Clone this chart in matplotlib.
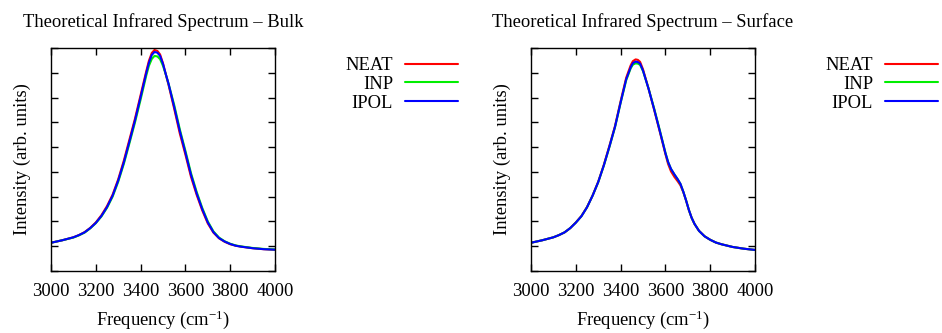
# -*- coding: utf-8 -*-

"""
Theoretical IR spectra (bulk / surface), gnuplot-like look.
"""

# %% Imports
import matplotlib
matplotlib.use("Agg")
import matplotlib.pyplot as plt

# %% Data (arb. units)
freq_bulk = [3000, 3050, 3100, 3125, 3150, 3175, 3200, 3225, 3250, 3275,
             3300, 3325, 3350, 3375, 3400, 3425, 3437, 3450, 3462, 3475,
             3487, 3500, 3512, 3525, 3550, 3575, 3600, 3625, 3650, 3675,
             3700, 3725, 3750, 3775, 3800, 3825, 3850, 3900, 3950, 4000]
neat_bulk = [1.14, 1.24, 1.36, 1.45, 1.57, 1.74, 1.96, 2.25, 2.62, 3.08,
             3.70, 4.45, 5.30, 6.15, 7.10, 8.05, 8.48, 8.80, 8.92, 8.88,
             8.74, 8.38, 7.95, 7.50, 6.55, 5.55, 4.70, 3.80, 3.08, 2.45,
             1.92, 1.55, 1.32, 1.18, 1.08, 1.02, 0.98, 0.92, 0.88, 0.86]
inp_bulk = [1.14, 1.24, 1.35, 1.44, 1.55, 1.72, 1.93, 2.20, 2.55, 3.00,
            3.60, 4.32, 5.15, 6.00, 6.92, 7.88, 8.28, 8.56, 8.68, 8.66,
            8.55, 8.28, 7.95, 7.55, 6.70, 5.72, 4.85, 3.95, 3.20, 2.55,
            2.00, 1.60, 1.35, 1.20, 1.10, 1.03, 0.99, 0.93, 0.89, 0.87]
ipol_bulk = [1.14, 1.24, 1.36, 1.45, 1.56, 1.73, 1.94, 2.22, 2.58, 3.04,
             3.65, 4.38, 5.22, 6.08, 7.02, 7.98, 8.40, 8.72, 8.84, 8.81,
             8.68, 8.36, 7.96, 7.55, 6.62, 5.65, 4.78, 3.88, 3.14, 2.50,
             1.96, 1.57, 1.33, 1.19, 1.09, 1.02, 0.98, 0.92, 0.88, 0.86]

freq_surf = [3000, 3050, 3100, 3125, 3150, 3175, 3200, 3225, 3250, 3275,
             3300, 3325, 3350, 3375, 3400, 3425, 3445, 3455, 3467, 3477,
             3487, 3500, 3525, 3550, 3575, 3590, 3600, 3612, 3625, 3640,
             3655, 3667, 3680, 3692, 3705, 3717, 3730, 3750, 3775, 3800,
             3825, 3850, 3900, 3950, 4000]
neat_surf = [1.14, 1.24, 1.36, 1.45, 1.56, 1.73, 1.96, 2.22, 2.58, 3.05,
             3.60, 4.28, 5.05, 5.85, 6.85, 7.80, 8.30, 8.47, 8.54, 8.52,
             8.44, 8.14, 7.35, 6.50, 5.62, 5.08, 4.72, 4.32, 4.02, 3.80,
             3.62, 3.46, 3.18, 2.85, 2.45, 2.15, 1.90, 1.62, 1.40, 1.26,
             1.15, 1.08, 0.97, 0.90, 0.85]
inp_surf = [1.14, 1.24, 1.36, 1.45, 1.56, 1.73, 1.95, 2.21, 2.57, 3.04,
            3.58, 4.25, 5.00, 5.80, 6.78, 7.70, 8.18, 8.33, 8.38, 8.37,
            8.32, 8.07, 7.36, 6.55, 5.68, 5.14, 4.78, 4.40, 4.12, 3.90,
            3.70, 3.52, 3.20, 2.86, 2.46, 2.15, 1.90, 1.62, 1.40, 1.26,
            1.15, 1.08, 0.97, 0.90, 0.85]
ipol_surf = [1.14, 1.24, 1.36, 1.45, 1.56, 1.73, 1.95, 2.21, 2.57, 3.04,
             3.59, 4.26, 5.02, 5.82, 6.80, 7.74, 8.22, 8.39, 8.45, 8.43,
             8.37, 8.09, 7.35, 6.52, 5.65, 5.12, 4.76, 4.40, 4.12, 3.90,
             3.70, 3.52, 3.20, 2.86, 2.46, 2.15, 1.90, 1.62, 1.40, 1.26,
             1.15, 1.08, 0.97, 0.90, 0.85]

series_names = ["NEAT", "INP", "IPOL"]
series_colors = ["#ff0000", "#00ee00", "#0000ff"]
titles = ["Theoretical Infrared Spectrum \u2013 Bulk",
          "Theoretical Infrared Spectrum \u2013 Surface"]
x_ticks = [3000, 3200, 3400, 3600, 3800, 4000]
y_ticks = list(range(0, 10))

# %% Style
plt.rcParams["font.family"] = ["Liberation Serif", "DejaVu Serif"]
plt.rcParams["mathtext.fontset"] = "custom"
plt.rcParams["mathtext.rm"] = "Liberation Serif"
plt.rcParams["mathtext.it"] = "Liberation Serif:italic"
plt.rcParams["mathtext.default"] = "regular"
FS = 13.4

# %% Figure
fig = plt.figure(figsize=(9.42, 3.33), dpi=100)
W, H = 942.0, 333.0
panels = [
    (51, [freq_bulk, neat_bulk, inp_bulk, ipol_bulk], 458),
    (531, [freq_surf, neat_surf, inp_surf, ipol_surf], 938),
]

for (left_px, data, leg_right_px), title in zip(panels, titles):
    ax = fig.add_axes([left_px / W, 1 - 271 / H, 224 / W, 223 / H])
    freq = data[0]
    for ys, name, col in zip(data[1:], series_names, series_colors):
        ax.plot(freq, ys, color=col, lw=1.5, label=name,
                solid_capstyle="round", solid_joinstyle="round")
    ax.set_xlim(3000, 4000)
    ax.set_ylim(0, 9)
    ax.set_xticks(x_ticks)
    ax.set_yticks(y_ticks)
    ax.set_yticklabels([])
    ax.tick_params(direction="in", length=5, width=1, top=True, right=True,
                   labelsize=FS, pad=9)
    for sp in ax.spines.values():
        sp.set_linewidth(1.0)
    ax.set_title(title, fontsize=FS, pad=15)
    ax.set_xlabel("Frequency (cm$^{-1}$)", fontsize=FS)
    ax.xaxis.set_label_coords(0.5, -0.17)
    ax.xaxis.label.set_va("top")
    ax.set_ylabel("Intensity (arb. units)", fontsize=FS)
    ax.yaxis.set_label_coords(-0.09, 0.5)
    ax.legend(loc="upper right", bbox_to_anchor=(leg_right_px / W, 1 - 57 / H),
              bbox_transform=fig.transFigure, frameon=False, markerfirst=False,
              fontsize=FS, handlelength=2.85, handletextpad=0.64,
              labelspacing=0.1, borderpad=0, borderaxespad=0)

fig.savefig("out.png", dpi=100)
